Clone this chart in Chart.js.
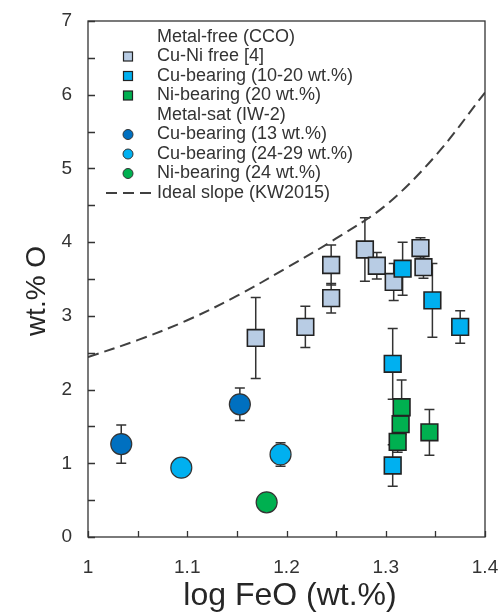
<!DOCTYPE html>
<html>
<head>
<meta charset="utf-8">
<script src="https://cdn.jsdelivr.net/npm/chart.js@4.4.1/dist/chart.umd.min.js"></script>
<style>
  body { margin: 0; background: #fff; }
  #wrap { width: 502px; height: 615px; }
</style>
</head>
<body>
<div id="wrap"><canvas id="chart" width="502" height="615"></canvas></div>
<script>
// valeurs
const cuNiFreeX = [1.169, 1.219, 1.245, 1.245, 1.279, 1.291, 1.308, 1.335, 1.338];
const cuNiFreeY = [2.70, 2.85, 3.24, 3.69, 3.90, 3.68, 3.46, 3.92, 3.66];
const cuNiFreeErr = [0.55, 0.28, 0.20, 0.27, 0.43, 0.18, 0.25, 0.14, 0.15];

const cuSqX = [1.307, 1.307, 1.317, 1.347, 1.375];
const cuSqY = [0.97, 2.35, 3.64, 3.21, 2.85];
const cuSqErr = [0.28, 0.48, 0.36, 0.50, 0.22];

const niSqX = [1.312, 1.315, 1.316, 1.344];
const niSqY = [1.29, 1.53, 1.76, 1.42];
const niSqErr = [0.14, 0.10, 0.37, 0.31];

const cu13X = [1.0335, 1.153];
const cu13Y = [1.26, 1.80];
const cu13Err = [0.26, 0.22];

const cu24X = [1.094, 1.194];
const cu24Y = [0.94, 1.12];
const cu24Err = [0, 0.16];

const ni24X = [1.180];
const ni24Y = [0.47];
const ni24Err = [0];

const idealX = [1.0, 1.05, 1.1, 1.15, 1.2, 1.25, 1.3, 1.35, 1.4];
const idealY = [2.44, 2.67, 2.94, 3.27, 3.65, 4.05, 4.50, 5.17, 6.03];

const FONT = "'Liberation Sans', Arial, sans-serif";
const TXT = "#333";

function pts(xs, ys) {
    return xs.map((x, i) => ({ x: x, y: ys[i] }));
}

// barres d'erreur sous les symboles
const errorBars = {
    id: "errorBars",
    beforeDatasetsDraw(chart) {
        const { ctx, scales: { x, y } } = chart;
        ctx.save();
        ctx.strokeStyle = "#333";
        ctx.lineWidth = 1.5;
        chart.data.datasets.forEach(ds => {
            if (!ds.err) return;
            ds.data.forEach((p, i) => {
                const e = ds.err[i];
                if (!e) return;
                const px = x.getPixelForValue(p.x);
                const top = y.getPixelForValue(p.y + e);
                const bot = y.getPixelForValue(p.y - e);
                ctx.beginPath();
                ctx.moveTo(px, top); ctx.lineTo(px, bot);
                ctx.moveTo(px - 5, top); ctx.lineTo(px + 5, top);
                ctx.moveTo(px - 5, bot); ctx.lineTo(px + 5, bot);
                ctx.stroke();
            });
        });
        ctx.restore();
    }
};

// cadre, graduations internes, titres des axes et légende
const frame = {
    id: "frame",
    afterDraw(chart) {
        const { ctx, chartArea: a, scales: { x, y } } = chart;
        ctx.save();
        ctx.strokeStyle = "#333";
        ctx.lineWidth = 1.3;
        ctx.strokeRect(a.left, a.top, a.right - a.left, a.bottom - a.top);

        ctx.beginPath();
        x.ticks.forEach(t => {
            const px = Math.round(x.getPixelForValue(t.value)) + 0.5;
            ctx.moveTo(px, a.bottom); ctx.lineTo(px, a.bottom - 6);
        });
        y.ticks.forEach(t => {
            const py = Math.round(y.getPixelForValue(t.value)) + 0.5;
            ctx.moveTo(a.left, py); ctx.lineTo(a.left + 7, py);
        });
        ctx.stroke();

        // titres
        ctx.fillStyle = "#262626";
        ctx.textAlign = "center";
        ctx.textBaseline = "middle";
        ctx.font = "32px " + FONT;
        ctx.fillText("log FeO (wt.%)", 290, 596);
        ctx.save();
        ctx.translate(37, 291);
        ctx.rotate(-Math.PI / 2);
        ctx.font = "28px " + FONT;
        ctx.fillText("wt.% O", 0, 0);
        ctx.restore();

        // légende
        const items = [
            { text: "Metal-free (CCO)" },
            { text: "Cu-Ni free [4]", shape: "rect", fill: "#b8cce4" },
            { text: "Cu-bearing (10-20 wt.%)", shape: "rect", fill: "#00b0f0" },
            { text: "Ni-bearing (20 wt.%)", shape: "rect", fill: "#00b050" },
            { text: "Metal-sat (IW-2)" },
            { text: "Cu-bearing (13 wt.%)", shape: "circle", fill: "#0070c0" },
            { text: "Cu-bearing (24-29 wt.%)", shape: "circle", fill: "#00b0f0" },
            { text: "Ni-bearing (24 wt.%)", shape: "circle", fill: "#00b050" },
            { text: "Ideal slope (KW2015)", shape: "dash" }
        ];
        ctx.font = "18px " + FONT;
        ctx.textAlign = "left";
        items.forEach((it, i) => {
            const cy = 37 + i * 19.5;
            ctx.fillStyle = TXT;
            ctx.fillText(it.text, 157, cy);
            if (it.shape === "rect") {
                ctx.fillStyle = it.fill;
                ctx.strokeStyle = "#222";
                ctx.lineWidth = 1.2;
                ctx.fillRect(123.5, cy - 4.5, 9, 9);
                ctx.strokeRect(123.5, cy - 4.5, 9, 9);
            } else if (it.shape === "circle") {
                ctx.fillStyle = it.fill;
                ctx.strokeStyle = "#333";
                ctx.lineWidth = 1;
                ctx.beginPath();
                ctx.arc(128, cy, 5, 0, Math.PI * 2);
                ctx.fill(); ctx.stroke();
            } else if (it.shape === "dash") {
                ctx.strokeStyle = "#404040";
                ctx.lineWidth = 2;
                ctx.setLineDash([11, 6]);
                ctx.beginPath();
                ctx.moveTo(106, cy); ctx.lineTo(154, cy);
                ctx.stroke();
                ctx.setLineDash([]);
            }
        });
        ctx.restore();
    }
};

function squareSet(label, xs, ys, err, color, order) {
    return {
        label: label, data: pts(xs, ys), err: err, order: order,
        pointStyle: "rect", pointRadius: 11.8, pointHoverRadius: 11.8,
        backgroundColor: color, borderColor: "#222", borderWidth: 1.6
    };
}
function circleSet(label, xs, ys, err, color, order) {
    return {
        label: label, data: pts(xs, ys), err: err, order: order,
        pointStyle: "circle", pointRadius: 10.5, pointHoverRadius: 10.5,
        backgroundColor: color, borderColor: "#333", borderWidth: 1.2
    };
}

new Chart(document.getElementById("chart"), {
    type: "scatter",
    data: {
        datasets: [
            {
                label: "Ideal slope (KW2015)", data: pts(idealX, idealY), order: 10,
                showLine: true, pointRadius: 0, borderColor: "#404040", borderWidth: 2,
                borderDash: [11, 6], tension: 0.35, fill: false
            },
            squareSet("Cu-Ni free [4]", cuNiFreeX, cuNiFreeY, cuNiFreeErr, "#b8cce4", 9),
            squareSet("Cu-bearing (10-20 wt.%)", cuSqX, cuSqY, cuSqErr, "#00b0f0", 8),
            squareSet("Ni-bearing (20 wt.%)", niSqX, niSqY, niSqErr, "#00b050", 7),
            circleSet("Cu-bearing (13 wt.%)", cu13X, cu13Y, cu13Err, "#0070c0", 6),
            circleSet("Cu-bearing (24-29 wt.%)", cu24X, cu24Y, cu24Err, "#00b0f0", 5),
            circleSet("Ni-bearing (24 wt.%)", ni24X, ni24Y, ni24Err, "#00b050", 4)
        ]
    },
    options: {
        responsive: false,
        animation: false,
        layout: { padding: { top: 21, right: 17, left: 0, bottom: 0 } },
        plugins: { legend: { display: false }, tooltip: { enabled: false } },
        scales: {
            x: {
                type: "linear", min: 1, max: 1.4,
                grid: { display: false }, border: { display: false },
                afterFit: s => { s.height = 78; s.paddingLeft = 0; s.paddingRight = 0; },
                ticks: {
                    stepSize: 0.05, autoSkip: false, maxRotation: 0, padding: 11,
                    color: TXT, font: { family: FONT, size: 19 },
                    callback: v => Math.round(v * 100) % 10 === 0 ? String(Number(v.toFixed(1))) : ""
                }
            },
            y: {
                type: "linear", min: 0, max: 7,
                grid: { display: false }, border: { display: false },
                afterFit: s => { s.width = 88; s.paddingTop = 0; s.paddingBottom = 0; },
                ticks: {
                    stepSize: 0.5, autoSkip: false, padding: 8,
                    color: TXT, font: { family: FONT, size: 19 },
                    callback: v => Number.isInteger(v) ? String(v) : ""
                }
            }
        }
    },
    plugins: [errorBars, frame]
});
</script>
</body>
</html>
